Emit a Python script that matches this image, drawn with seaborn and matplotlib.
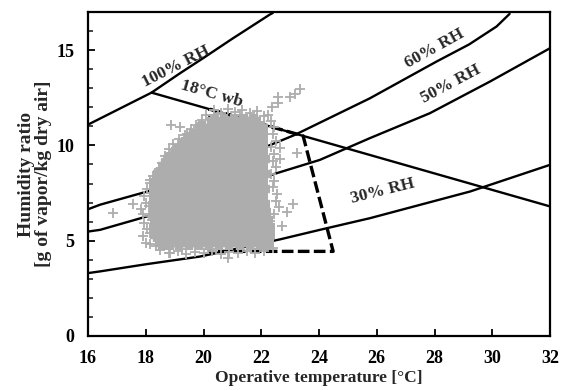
import numpy as np
import pandas as pd
import matplotlib
matplotlib.use("Agg")
import matplotlib.pyplot as plt
from matplotlib.ticker import MultipleLocator
import seaborn as sns

# ---------------- data ----------------
# relative-humidity curves (operative temperature [degC], humidity ratio [g/kg])
rh100_t = [16.0, 17.1, 18.2, 19.19, 20.0, 21.0, 22.3, 22.4]
rh100_w = [11.09, 11.93, 12.77, 13.79, 14.59, 15.6, 16.87, 16.95]
rh60_t = [16.0, 16.42, 18.26, 22.2, 23.16, 25.76, 28.07, 29.2, 30.15, 30.6]
rh60_w = [6.65, 6.89, 7.67, 9.95, 10.55, 12.47, 14.4, 15.3, 16.24, 16.9]
rh50_t = [16.0, 16.42, 18.03, 22.53, 24.03, 25.76, 27.84, 29.92, 32.0]
rh50_w = [5.48, 5.57, 6.27, 8.54, 9.24, 10.38, 11.69, 13.35, 15.1]
rh30_t = [16.0, 16.42, 18.03, 19.88, 22.65, 24.03, 25.76, 29.23, 32.0]
rh30_w = [3.3, 3.39, 3.77, 4.17, 5.07, 5.57, 6.18, 7.58, 8.98]
# 18 degC wet-bulb line
wb_t = [18.2, 32.0]
wb_w = [12.77, 6.8]
# comfort zone
zone_t = [20.22, 23.45, 24.49, 20.22, 20.22]
zone_w = [11.9, 10.5, 4.44, 4.44, 11.9]

# measured conditions: dense core of the cloud (rows of humidity ratio)
core_rows = {
    11.3: [20.35, 20.7, 21.05, 21.4, 21.75],
    10.9: [19.95, 20.3, 20.65, 21.0, 21.35, 21.7, 22.0],
    10.5: [19.65, 19.95, 20.3, 20.65, 21.0, 21.35, 21.7, 22.0],
    10.1: [19.35, 19.65, 20.0, 20.35, 20.7, 21.05, 21.4, 21.75, 22.0],
    9.7: [19.1, 19.4, 19.75, 20.1, 20.45, 20.8, 21.15, 21.5, 21.85, 22.0],
    9.3: [18.85, 19.15, 19.5, 19.85, 20.2, 20.55, 20.9, 21.25, 21.6, 21.95, 22.05],
    8.9: [18.65, 18.95, 19.3, 19.65, 20.0, 20.35, 20.7, 21.05, 21.4, 21.75, 22.0],
    8.5: [18.5, 18.8, 19.15, 19.5, 19.85, 20.2, 20.55, 20.9, 21.25, 21.6, 21.95, 22.05],
    8.1: [18.4, 18.75, 19.1, 19.45, 19.8, 20.15, 20.5, 20.85, 21.2, 21.55, 21.9, 22.0],
    7.7: [18.35, 18.75, 19.1, 19.45, 19.8, 20.15, 20.5, 20.85, 21.2, 21.55, 21.9, 22.05],
    7.3: [18.35, 18.75, 19.1, 19.45, 19.8, 20.15, 20.5, 20.85, 21.2, 21.55, 21.9, 22.0],
    6.9: [18.4, 18.75, 19.1, 19.45, 19.8, 20.15, 20.5, 20.85, 21.2, 21.55, 21.9, 22.05],
    6.5: [18.35, 18.75, 19.1, 19.45, 19.8, 20.15, 20.5, 20.85, 21.2, 21.55, 21.9, 22.1],
    6.1: [18.4, 18.75, 19.1, 19.45, 19.8, 20.15, 20.5, 20.85, 21.2, 21.55, 21.9, 22.15],
    5.7: [18.35, 18.75, 19.1, 19.45, 19.8, 20.15, 20.5, 20.85, 21.2, 21.55, 21.9, 22.25],
    5.3: [18.4, 18.75, 19.1, 19.45, 19.8, 20.15, 20.5, 20.85, 21.2, 21.55, 21.9, 22.25],
    4.9: [18.55, 18.85, 19.15, 19.5, 19.85, 20.2, 20.55, 20.9, 21.25, 21.6, 21.95, 22.2],
}
# measured conditions: sparse points around the edge of the cloud
edge_t = [
    # left edge
    18.0, 17.9, 18.05, 17.95, 18.1, 17.85, 18.0, 17.95, 18.05, 18.15, 18.25,
    18.15, 18.2, 18.1, 18.2, 18.15,
    # upper-left diagonal
    18.45, 18.55, 18.65, 18.8, 18.95, 19.15, 19.35, 19.55, 19.75, 19.95, 20.1,
    18.6, 18.85, 19.1, 19.45, 19.8,
    # top
    20.35, 20.6, 20.85, 21.1, 21.35, 21.6, 21.85, 22.1, 20.5, 21.25,
    # right edge
    22.35, 22.45, 22.4, 22.5, 22.35, 22.45, 22.4, 22.5, 22.35, 22.45, 22.4,
    22.55, 22.5, 22.6, 22.45, 22.3, 22.25, 22.3,
    # bottom
    18.5, 18.8, 19.1, 19.4, 19.7, 20.0, 20.3, 20.6, 20.9, 21.2, 21.5,
    21.8, 22.1, 22.4, 18.35, 19.25, 20.45, 21.65,
    # outliers
    23.34, 23.17, 23.0, 22.58, 22.58, 22.37, 22.23,
    23.24, 22.65, 22.65, 23.1, 22.89, 22.72, 20.85, 18.84,
    16.87, 17.56, 17.9, 18.15, 18.87, 19.19, 19.43]
edge_w = [
    4.9, 5.25, 5.6, 5.95, 6.3, 6.65, 7.0, 7.35, 7.7, 8.05, 8.4,
    5.4, 6.1, 6.8, 7.5, 8.2,
    8.75, 9.1, 9.45, 9.8, 10.05, 10.35, 10.55, 10.85, 11.05, 11.35, 11.6,
    9.0, 9.55, 10.0, 10.45, 10.95,
    11.85, 11.7, 11.9, 11.75, 11.85, 11.7, 11.8, 11.55, 11.65, 11.6,
    11.3, 10.95, 10.6, 10.25, 9.9, 9.55, 9.2, 8.85, 8.5, 8.15, 7.8,
    7.45, 7.1, 6.75, 6.4, 6.05, 5.7, 5.35,
    4.5, 4.35, 4.45, 4.3, 4.4, 4.35, 4.45, 4.3, 4.4, 4.35, 4.45,
    4.35, 4.45, 4.6, 4.7, 4.55, 4.55, 4.55,
    12.98, 12.72, 12.56, 12.56, 12.2, 12.04, 11.62,
    9.58, 9.84, 9.31, 6.9, 6.53, 5.75, 4.07, 4.33,
    6.43, 6.95, 6.38, 4.85, 11.09, 10.99, 10.62]

x_ticks = [16, 18, 20, 22, 24, 26, 28, 30, 32]
y_ticks = [0, 5, 10, 15]

# ---------------- figure ----------------
sns.set_style("ticks")
plt.rcParams["font.family"] = ["Liberation Serif", "DejaVu Serif"]
plt.rcParams["font.weight"] = "bold"
plt.rcParams["axes.labelweight"] = "bold"

fig = plt.figure(figsize=(5.63, 3.90), dpi=100)
ax = fig.add_axes([88 / 563, 54 / 390, 462 / 563, 324 / 390])

curves = pd.concat([
    pd.DataFrame({"T": rh100_t, "W": rh100_w, "curve": "100"}),
    pd.DataFrame({"T": rh60_t, "W": rh60_w, "curve": "60"}),
    pd.DataFrame({"T": rh50_t, "W": rh50_w, "curve": "50"}),
    pd.DataFrame({"T": rh30_t, "W": rh30_w, "curve": "30"}),
    pd.DataFrame({"T": wb_t, "W": wb_w, "curve": "wb"}),
], ignore_index=True)
sns.lineplot(data=curves, x="T", y="W", units="curve", estimator=None,
             sort=False, color="black", linewidth=1.7, ax=ax, zorder=2)

zone = pd.DataFrame({"T": zone_t, "W": zone_w})
sns.lineplot(data=zone, x="T", y="W", estimator=None, sort=False,
             color="black", linewidth=2.4, linestyle=(0, (3.5, 1.3)),
             ax=ax, zorder=2.5)

core = pd.DataFrame([(t, w) for w, ts in core_rows.items() for t in ts],
                    columns=["T", "W"])
grey = "#adadad"
sns.scatterplot(data=core, x="T", y="W", marker="+", s=100, linewidth=6,
                color=grey, ax=ax, zorder=3)
edge = pd.DataFrame({"T": edge_t, "W": edge_w})
sns.scatterplot(data=edge, x="T", y="W", marker="+", s=42, linewidth=1.3,
                color=grey, ax=ax, zorder=3)

# curve labels
lab_kw = dict(fontsize=12.5, fontweight="bold", ha="center", va="center",
              rotation_mode="anchor", zorder=4)
ax.text(19.05, 14.14, "100% RH", rotation=27, **lab_kw)
ax.text(20.3, 12.72, "18°C wb", rotation=-16, **lab_kw)
ax.text(28.02, 15.05, "60% RH", rotation=29, **lab_kw)
ax.text(28.57, 13.2, "50% RH", rotation=28, **lab_kw)
ax.text(26.22, 7.6, "30% RH", rotation=14, **lab_kw)

ax.set_xlim(16, 32)
ax.set_ylim(0, 17)
ax.set_xticks(x_ticks)
ax.set_yticks(y_ticks)
ax.yaxis.set_minor_locator(MultipleLocator(1))
ax.tick_params(axis="both", which="major", direction="in", length=5,
               width=1.3, pad=10, labelsize=13, colors="black")
ax.tick_params(axis="y", which="minor", direction="in", length=3.5, width=1.2)
ax.tick_params(top=False, right=False)
for sp in ax.spines.values():
    sp.set_linewidth(1.6)
    sp.set_color("black")

ax.set_xlabel("Operative temperature [°C]", fontsize=12.5, fontweight="bold")
ax.set_ylabel("Humidity ratio\n[g of vapor/kg dry air]", fontsize=14,
              fontweight="bold", linespacing=1.0)
ax.xaxis.set_label_coords(0.5, -0.105)
ax.yaxis.set_label_coords(-0.078, 0.5)

fig.savefig("out.png", dpi=100)
